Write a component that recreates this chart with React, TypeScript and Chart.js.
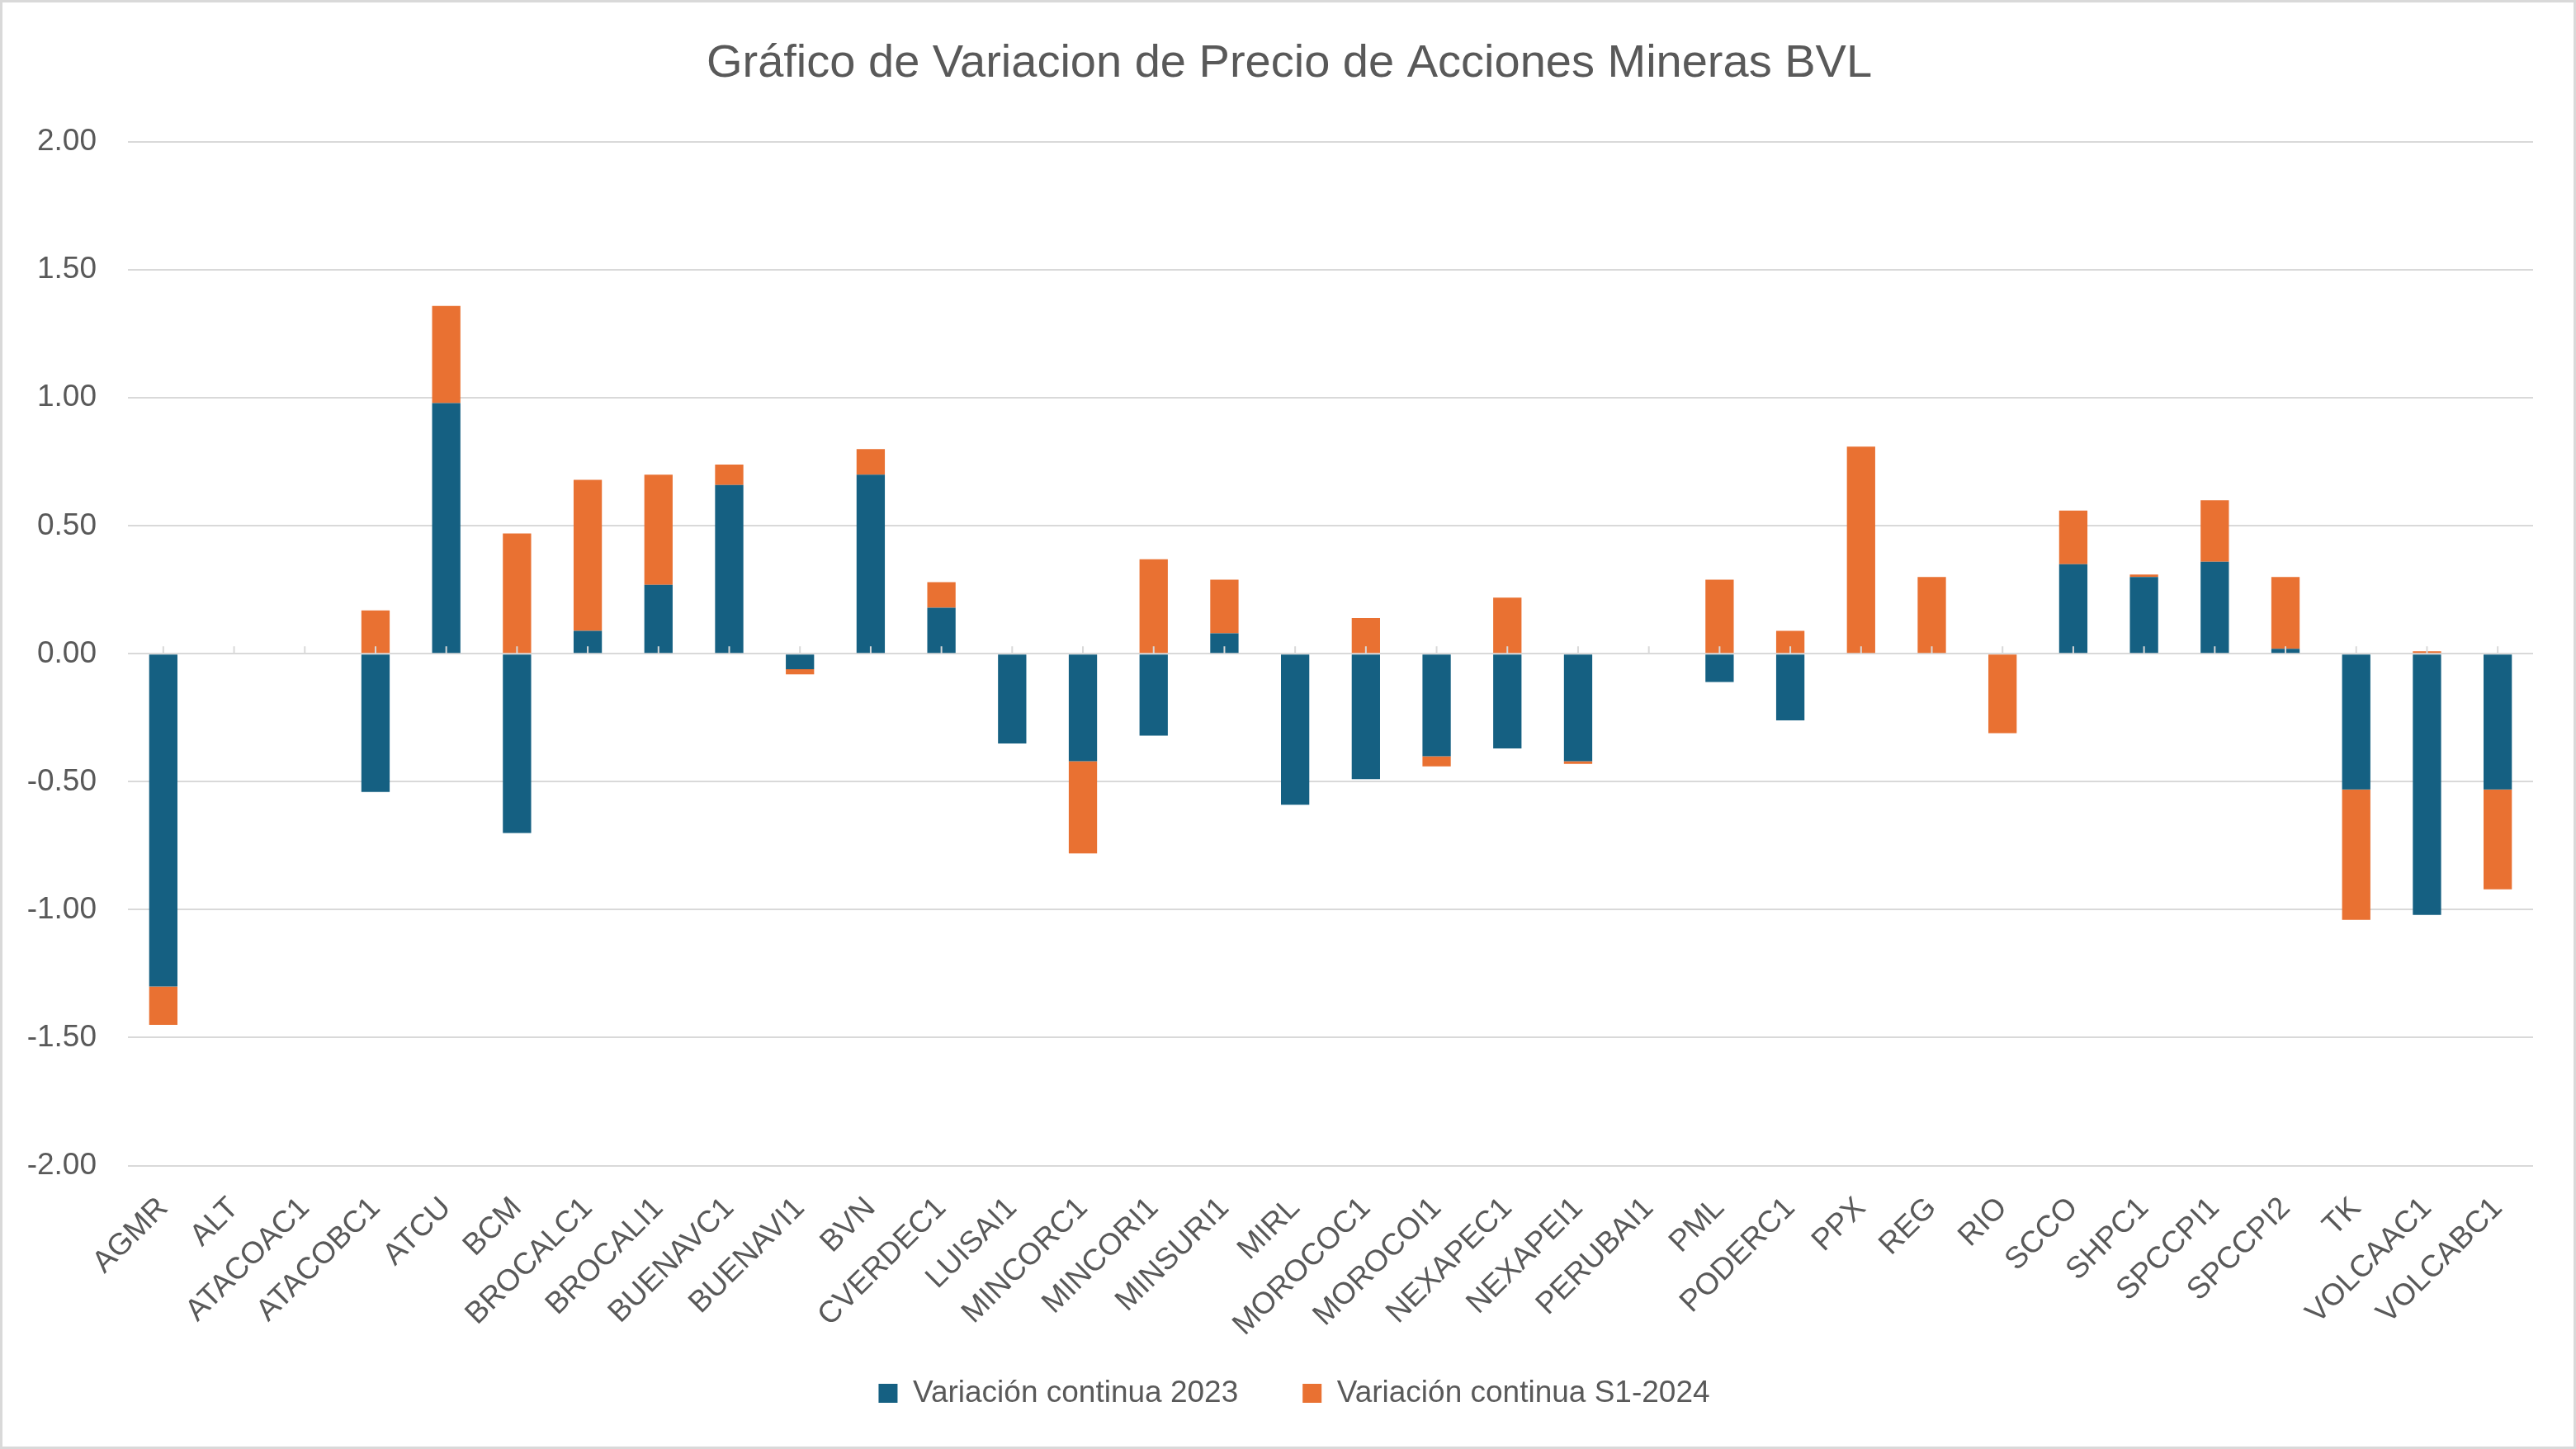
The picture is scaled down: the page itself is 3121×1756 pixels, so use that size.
import React, { useEffect, useRef } from "react";
import { Chart, registerables } from "chart.js";

Chart.register(...registerables);

const categories = [
  "AGMR", "ALT", "ATACOAC1", "ATACOBC1", "ATCU", "BCM", "BROCALC1", "BROCALI1",
  "BUENAVC1", "BUENAVI1", "BVN", "CVERDEC1", "LUISAI1", "MINCORC1", "MINCORI1",
  "MINSURI1", "MIRL", "MOROCOC1", "MOROCOI1", "NEXAPEC1", "NEXAPEI1", "PERUBAI1",
  "PML", "PODERC1", "PPX", "REG", "RIO", "SCCO", "SHPC1", "SPCCPI1", "SPCCPI2",
  "TK", "VOLCAAC1", "VOLCABC1",
];

const variacion2023: (number | null)[] = [
  -1.30, null, null, -0.54, 0.98, -0.70, 0.09, 0.27,
  0.66, -0.06, 0.70, 0.18, -0.35, -0.42, -0.32,
  0.08, -0.59, -0.49, -0.40, -0.37, -0.42, null,
  -0.11, -0.26, null, null, null, 0.35, 0.30, 0.36, 0.02,
  -0.53, -1.02, -0.53,
];

const variacionS12024: (number | null)[] = [
  -0.15, null, null, 0.17, 0.38, 0.47, 0.59, 0.43,
  0.08, -0.02, 0.10, 0.10, null, -0.36, 0.37,
  0.21, null, 0.14, -0.04, 0.22, -0.01, null,
  0.29, 0.09, 0.81, 0.30, -0.31, 0.21, 0.01, 0.24, 0.28,
  -0.51, 0.01, -0.39,
];

const yTickValues = [-2, -1.5, -1, -0.5, 0, 0.5, 1, 1.5, 2];

const titleText = "Gráfico de Variacion de Precio de Acciones Mineras BVL";
const seriesNames = ["Variación continua 2023", "Variación continua S1-2024"];

const FONT = "'Liberation Sans', Arial, sans-serif";
const TEXT = "#595959";
const GRID = "#d9d9d9";
const BLUE = "#156082";
const ORANGE = "#E97132";

const zeroTicks = {
  id: "zeroTicks",
  afterDatasetsDraw(chart: any) {
    const x = chart.scales.x;
    const y = chart.scales.y;
    const y0 = y.getPixelForValue(0);
    const ctx = chart.ctx;
    ctx.save();
    ctx.strokeStyle = GRID;
    ctx.lineWidth = 2;
    ctx.beginPath();
    for (let i = 0; i < categories.length; i++) {
      const px = x.getPixelForValue(i);
      ctx.moveTo(px, y0 - 9);
      ctx.lineTo(px, y0);
    }
    ctx.stroke();
    ctx.restore();
  },
};

// centre the title and legend on the whole chart box and lift the legend (as Excel places them)
const placeBlocks = {
  id: "placeBlocks",
  afterLayout(chart: any) {
    const t = chart.titleBlock;
    if (t) {
      t.left += 15;
      t.right += 15;
    }
    const l = chart.legend;
    if (l) {
      l.left += 21;
      l.right += 21;
      l.top -= 58;
      l.bottom -= 58;
    }
  },
};

export default function App() {
  const ref = useRef<HTMLCanvasElement | null>(null);

  useEffect(() => {
    if (!ref.current) return;
    const chart = new Chart(ref.current, {
      type: "bar",
      data: {
        labels: categories,
        datasets: [
          {
            label: seriesNames[0],
            data: variacion2023,
            backgroundColor: BLUE,
            barPercentage: 0.4,
            categoryPercentage: 1,
          },
          {
            label: seriesNames[1],
            data: variacionS12024,
            backgroundColor: ORANGE,
            barPercentage: 0.4,
            categoryPercentage: 1,
          },
        ],
      },
      options: {
        animation: false,
        responsive: true,
        maintainAspectRatio: false,
        layout: { padding: { left: 22, right: 49, top: 0, bottom: -22 } },
        plugins: {
          title: {
            display: true,
            text: titleText,
            color: TEXT,
            font: { family: FONT, size: 56, weight: "normal" },
            padding: { top: 41, bottom: 61 },
          },
          legend: {
            position: "bottom",
            labels: {
              color: TEXT,
              font: { family: FONT, size: 37 },
              boxWidth: 23,
              boxHeight: 23,
              padding: 78,
            },
          },
          tooltip: { enabled: false },
        },
        scales: {
          x: {
            stacked: true,
            grid: { display: false },
            border: { display: false },
            afterFit: (axis: any) => {
              axis.paddingLeft = 0;
              axis.paddingRight = 0;
            },
            ticks: {
              color: TEXT,
              font: { family: FONT, size: 37 },
              minRotation: 45,
              maxRotation: 45,
              autoSkip: false,
              padding: 22,
            },
          },
          y: {
            stacked: true,
            min: -2,
            max: 2,
            afterBuildTicks: (axis: any) => {
              axis.ticks = yTickValues.map((v) => ({ value: v }));
            },
            afterFit: (axis: any) => {
              axis.width = 130;
            },
            grid: { color: GRID, lineWidth: 2, drawTicks: false },
            border: { display: false },
            ticks: {
              color: TEXT,
              font: { family: FONT, size: 37 },
              padding: 38,
              callback: (v: any) => Number(v).toFixed(2),
            },
          },
        },
      },
      plugins: [zeroTicks, placeBlocks],
    });
    return () => chart.destroy();
  }, []);

  return (
    <div
      style={{
        position: "fixed",
        left: 0,
        top: 0,
        width: 3121,
        height: 1756,
        boxSizing: "border-box",
        border: `3px solid ${GRID}`,
        background: "#fff",
      }}
    >
      <canvas ref={ref} />
    </div>
  );
}
